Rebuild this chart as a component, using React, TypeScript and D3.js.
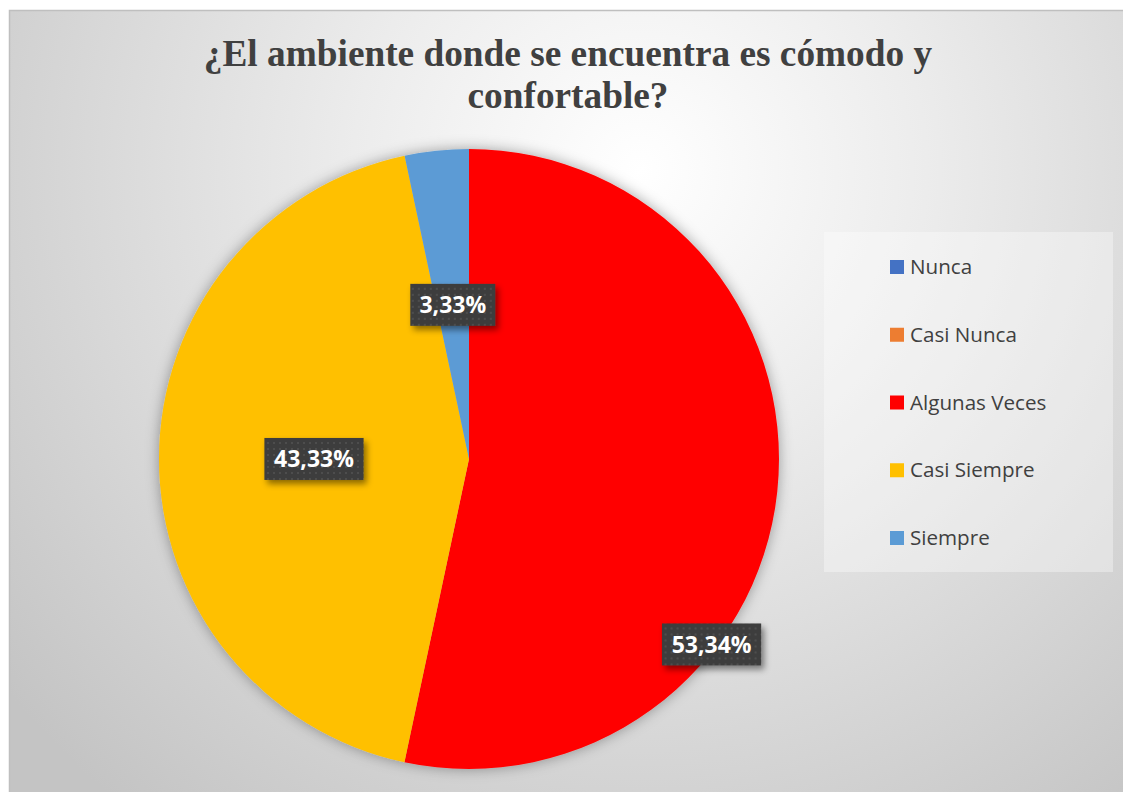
import React from "react";
import * as d3 from "d3";

// Survey answers and their shares (percent)
const categories = ["Nunca", "Casi Nunca", "Algunas Veces", "Casi Siempre", "Siempre"];
const shares = [0, 0, 53.34, 43.33, 3.33];
const sliceColors = ["#4472C4", "#ED7D31", "#FF0000", "#FFC000", "#5B9BD5"];
const titleLines = ["¿El ambiente donde se encuentra es cómodo y", "confortable?"];

// Label anchor overrides: angle in degrees (clockwise from 12 o'clock) and radius fraction.
const labelOverrides: Record<string, { angle: number; rf: number }> = {
  "Algunas Veces": { angle: 127.4, rf: 0.985 },
};

const W = 1123;
const H = 792;
const cx = 469;
const cy = 459;
const R = 310;

const fmt = (v: number) => d3.format(".2f")(v).replace(".", ",") + "%";

export default function App() {
  const pie = d3
    .pie<number>()
    .sort(null)
    .value((d) => d)(shares);
  const arc = d3.arc<d3.PieArcDatum<number>>().innerRadius(0).outerRadius(R);

  const legendY = d3.scalePoint<string>().domain(categories).range([267, 538]);

  const labels = pie
    .map((p, i) => ({ p, i }))
    .filter(({ p }) => p.value > 0)
    .map(({ p, i }) => {
      const ov = labelOverrides[categories[i]];
      let x: number, y: number;
      if (ov) {
        const a = (ov.angle * Math.PI) / 180;
        x = Math.sin(a) * R * ov.rf;
        y = -Math.cos(a) * R * ov.rf;
      } else {
        [x, y] = arc.centroid(p);
      }
      return { x, y, text: fmt(p.value), i };
    });

  return (
    <svg
      width={W}
      height={H}
      style={{ position: "absolute", left: 0, top: 0, display: "block" }}
      fontFamily="'Open Sans', sans-serif"
    >
      <defs>
        <radialGradient id="bg" gradientUnits="userSpaceOnUse" cx={640} cy={170} r={820}>
          <stop offset="0" stopColor="#ffffff" />
          <stop offset="0.35" stopColor="#ececec" />
          <stop offset="1" stopColor="#c4c4c4" />
        </radialGradient>
        <filter id="pieShadow" x="-20%" y="-20%" width="140%" height="140%">
          <feDropShadow dx="0" dy="0" stdDeviation="7" floodColor="#000" floodOpacity="0.35" />
        </filter>
        <filter id="boxShadow" x="-30%" y="-30%" width="170%" height="190%">
          <feDropShadow dx="3" dy="4" stdDeviation="3" floodColor="#000" floodOpacity="0.45" />
        </filter>
        <pattern id="dots" width="6" height="6" patternUnits="userSpaceOnUse">
          <rect width="6" height="6" fill="#3d3d3d" />
          <rect x="1" y="1" width="2" height="2" fill="#4e4e4e" />
        </pattern>
      </defs>

      {/* chart area */}
      <rect x={9.5} y={10.5} width={1130} height={800} fill="url(#bg)" stroke="#bfbfbf" strokeWidth={1.5} />

      {/* title */}
      <g
        fontFamily="'Liberation Serif', 'Times New Roman', serif"
        fontWeight="bold"
        fontSize={37.3}
        fill="#404040"
        textAnchor="middle"
      >
        {titleLines.map((t, k) => (
          <text key={k} x={568} y={66 + k * 42}>
            {t}
          </text>
        ))}
      </g>

      {/* pie */}
      <g transform={`translate(${cx},${cy})`}>
        <g filter="url(#pieShadow)">
          {pie.map((p, i) =>
            p.value > 0 ? <path key={i} d={arc(p) || ""} fill={sliceColors[i]} /> : null
          )}
        </g>
        {labels.map((l) => {
          const bw = l.text.length * 14.2 + 14;
          const bh = 42;
          return (
            <g key={l.i} transform={`translate(${l.x},${l.y})`}>
              <rect
                x={-bw / 2}
                y={-bh / 2}
                width={bw}
                height={bh}
                fill="url(#dots)"
                filter="url(#boxShadow)"
              />
              <text
                textAnchor="middle"
                dy="0.36em"
                fill="#ffffff"
                fontWeight="bold"
                fontSize={23}
              >
                {l.text}
              </text>
            </g>
          );
        })}
      </g>

      {/* legend */}
      <rect x={824} y={232} width={289} height={340} fill="#ffffff" fillOpacity={0.35} />
      {categories.map((c, i) => (
        <g key={c} transform={`translate(890,${legendY(c)})`}>
          <rect x={0} y={-7} width={14} height={14} fill={sliceColors[i]} />
          <text x={20} dy="0.35em" fontSize={20.6} fill="#404040">
            {c}
          </text>
        </g>
      ))}
    </svg>
  );
}
